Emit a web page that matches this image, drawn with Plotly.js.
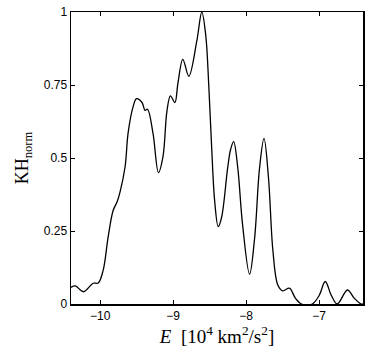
<!DOCTYPE html>
<html>
<head>
<meta charset="utf-8">
<script src="https://cdn.plot.ly/plotly-3.0.1.min.js"></script>
<style>html,body{margin:0;padding:0;background:#fff;}#chart{width:376px;height:347px;}</style>
</head>
<body>
<div id="chart"></div>
<script>
var energy = [-10.4, -10.341, -10.228, -10.096, -10.027, -9.959, -9.891, -9.823, -9.768, -9.727,
  -9.659, -9.618, -9.55, -9.502, -9.427, -9.386, -9.352, -9.277, -9.202, -9.14,
  -9.086, -9.038, -8.977, -8.936, -8.868, -8.786, -8.677, -8.608, -8.554, -8.513,
  -8.472, -8.431, -8.383, -8.336, -8.254, -8.213, -8.172, -8.117, -8.049, -7.954, -7.885,
  -7.817, -7.756, -7.694, -7.635, -7.567, -7.5, -7.408, -7.326, -7.244, -7.094,
  -6.999, -6.917, -6.835, -6.753, -6.613, -6.521, -6.426, -6.4];
var khNorm = [0.057, 0.062, 0.042, 0.071, 0.072, 0.116, 0.23, 0.32, 0.35, 0.385,
  0.47, 0.585, 0.675, 0.703, 0.69, 0.663, 0.667, 0.585, 0.45, 0.505,
  0.66, 0.713, 0.69, 0.755, 0.838, 0.78, 0.9, 1.0, 0.92, 0.75,
  0.53, 0.35, 0.265, 0.298, 0.466, 0.53, 0.556, 0.47, 0.27, 0.102, 0.225,
  0.466, 0.567, 0.43, 0.185, 0.065, 0.045, 0.054, 0.02, 0.0, 0.0,
  0.03, 0.077, 0.03, 0.0, 0.048, 0.02, 0.0, 0.0];
var xTickVals = [-10, -9, -8, -7];
var xTickText = ['\u221210', '\u22129', '\u22128', '\u22127'];
var yTickVals = [0, 0.25, 0.5, 0.75, 1];
var yTickText = ['0', '0.25', '0.5', '0.75', '1'];

var trace = {
  x: energy, y: khNorm, type: 'scatter', mode: 'lines',
  line: {color: '#000', width: 1.3, shape: 'spline', smoothing: 1},
  hoverinfo: 'none'
};
var layout = {
  width: 376, height: 347,
  margin: {l: 71, r: 13, t: 12, b: 43},
  paper_bgcolor: '#fff', plot_bgcolor: '#fff',
  showlegend: false,
  xaxis: {
    range: [-10.4, -6.4], tickvals: xTickVals, ticktext: xTickText,
    ticks: 'inside', ticklen: 4, tickwidth: 1, tickcolor: '#000',
    showline: true, linecolor: '#000', linewidth: 1.5, mirror: 'ticks',
    showgrid: false, zeroline: false,
    tickfont: {family: 'Liberation Sans, Arial, sans-serif', size: 12, color: '#000'},
    title: {text: '<i>E</i>  [10<sup>4</sup> km<sup>2</sup>/s<sup>2</sup>]', standoff: 3,
      font: {family: 'Liberation Serif, Times New Roman, serif', size: 19, color: '#000'}}
  },
  yaxis: {
    range: [0, 1], tickvals: yTickVals, ticktext: yTickText,
    ticks: 'inside', ticklen: 4, tickwidth: 1, tickcolor: '#000',
    showline: true, linecolor: '#000', linewidth: 1.5, mirror: 'ticks',
    showgrid: false, zeroline: false,
    tickfont: {family: 'Liberation Sans, Arial, sans-serif', size: 12, color: '#000'},
    title: {text: 'KH<sub>norm</sub>', standoff: 10,
      font: {family: 'Liberation Serif, Times New Roman, serif', size: 18, color: '#000'}}
  }
};
Plotly.newPlot('chart', [trace], layout, {staticPlot: true, displayModeBar: false});
</script>
</body>
</html>
